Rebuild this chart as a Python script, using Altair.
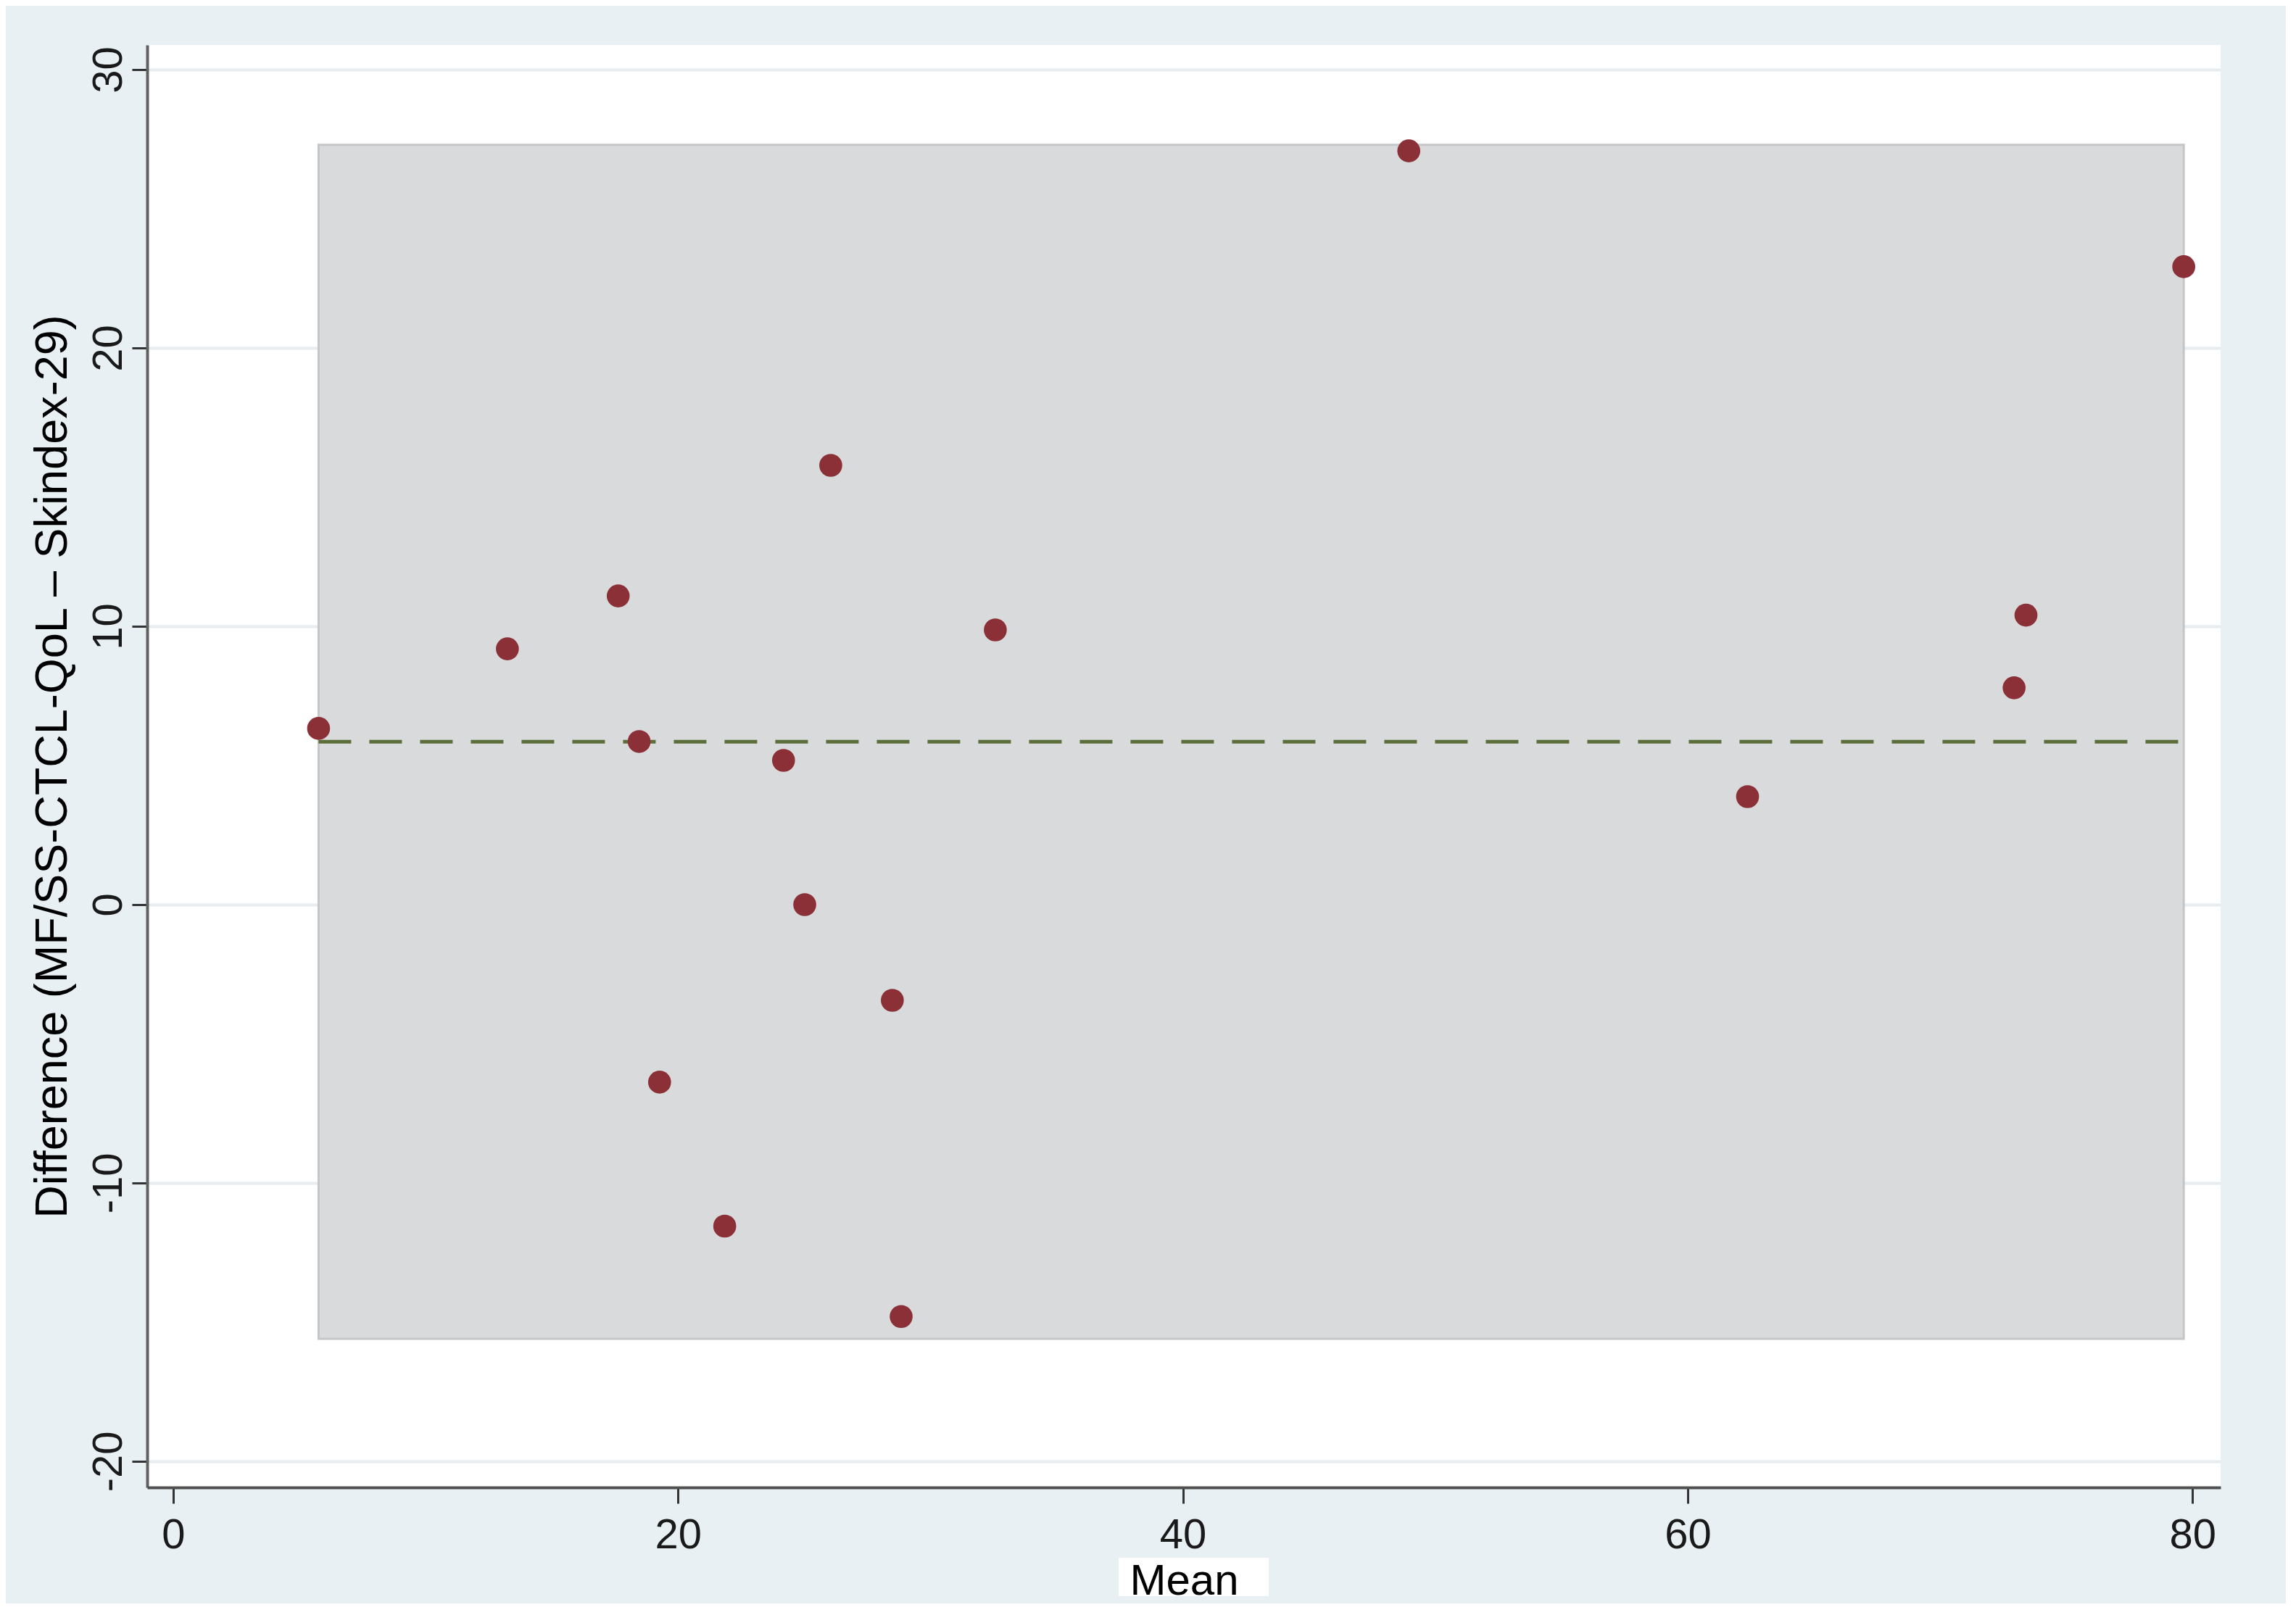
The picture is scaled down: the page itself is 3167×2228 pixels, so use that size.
import altair as alt
import pandas as pd

# ---- data (Bland-Altman plot) ----
mean_vals = [5.76, 13.24, 17.63, 18.46, 19.27, 21.85, 24.18, 25.02, 26.05,
             28.49, 28.84, 32.57, 48.95, 62.37, 72.93, 73.40, 79.65]
diff_vals = [6.33, 9.19, 11.09, 5.86, -6.38, -11.55, 5.18, 0.0, 15.78,
             -3.44, -14.80, 9.87, 27.08, 3.88, 7.79, 10.40, 22.92]
mean_difference = [5.85]
lower_limit = [-15.6]
upper_limit = [27.3]
x_ticks = [0, 20, 40, 60, 80]
y_ticks = [-20, -10, 0, 10, 20, 30]
x_title = "Mean"
y_title = "Difference (MF/SS-CTCL-QoL \u2013 Skindex-29)"

points = pd.DataFrame({"mean": mean_vals, "diff": diff_vals})
band = pd.DataFrame({
    "x1": [min(mean_vals)], "x2": [max(mean_vals)],
    "lo": lower_limit, "hi": upper_limit, "md": mean_difference,
})
dummy = pd.DataFrame({"k": [0]})

FONT = "Liberation Sans"
W, H = 2860, 1990

xscale = alt.Scale(domain=[-1.03, 81.11], nice=False, zero=False)
yscale = alt.Scale(domain=[-20.94, 30.886], nice=False, zero=False)

x_axis = alt.Axis(
    values=x_ticks, title=x_title, grid=False,
    domainColor="#505050", domainWidth=4,
    tickColor="#333333", tickWidth=3, tickSize=22,
    labelFont=FONT, labelFontSize=58, labelColor="#1a1a1a",
    labelPadding=15, labelBaseline="top", labelAngle=0,
    labelFlush=False, labelOverlap=False,
    titleFont=FONT, titleFontSize=60, titleFontWeight="normal",
    titleColor="#000000", titleY=147, titleBaseline="alphabetic",
    titleAlign="center", zindex=1,
)
y_axis = alt.Axis(
    values=y_ticks, title=y_title, grid=True,
    gridColor="#e6ecef", gridWidth=4,
    domainColor="#606060", domainWidth=4,
    tickColor="#333333", tickWidth=3, tickSize=21,
    labelFont=FONT, labelFontSize=58, labelColor="#1a1a1a",
    labelAngle=270, labelAlign="center", labelBaseline="alphabetic",
    labelPadding=15, labelFlush=False, labelOverlap=False,
    labelExpr="toString(datum.value)",
    titleFont=FONT, titleFontSize=63, titleFontWeight="normal",
    titleColor="#000000", titleAngle=270, titleX=-112, titleY=H / 2,
    titleAlign="center", titleBaseline="alphabetic",
)

band_layer = alt.Chart(band).mark_rect(
    fill="#d9dadb", stroke="#c5c6c7", strokeWidth=3
).encode(
    x=alt.X("x1:Q", scale=xscale, axis=x_axis),
    x2="x2",
    y=alt.Y("lo:Q", scale=yscale, axis=y_axis),
    y2="hi",
)

mean_line = alt.Chart(band).mark_rule(
    color="#5b6e3a", strokeWidth=5, strokeDash=[45, 25]
).encode(
    x=alt.X("x1:Q", scale=xscale, axis=x_axis),
    x2="x2",
    y=alt.Y("md:Q", scale=yscale, axis=y_axis),
)

dots = alt.Chart(points).mark_circle(
    size=1000, color="#8c3038", opacity=1
).encode(
    x=alt.X("mean:Q", scale=xscale, axis=x_axis),
    y=alt.Y("diff:Q", scale=yscale, axis=y_axis),
)

title_box = alt.Chart(dummy).mark_rect(color="white").encode(
    x=alt.value(1340), x2=alt.value(1547),
    y=alt.value(H + 97), y2=alt.value(H + 150),
)

chart = alt.layer(band_layer, mean_line, dots, title_box).properties(
    width=W, height=H,
    padding={"left": 195, "top": 54, "right": 90, "bottom": 160},
    autosize=alt.AutoSizeParams(type="none"),
    background="#e9f0f3",
).configure_view(fill="white", strokeWidth=0)

chart.save("out.html", embed_options={"renderer": "svg", "actions": False})
